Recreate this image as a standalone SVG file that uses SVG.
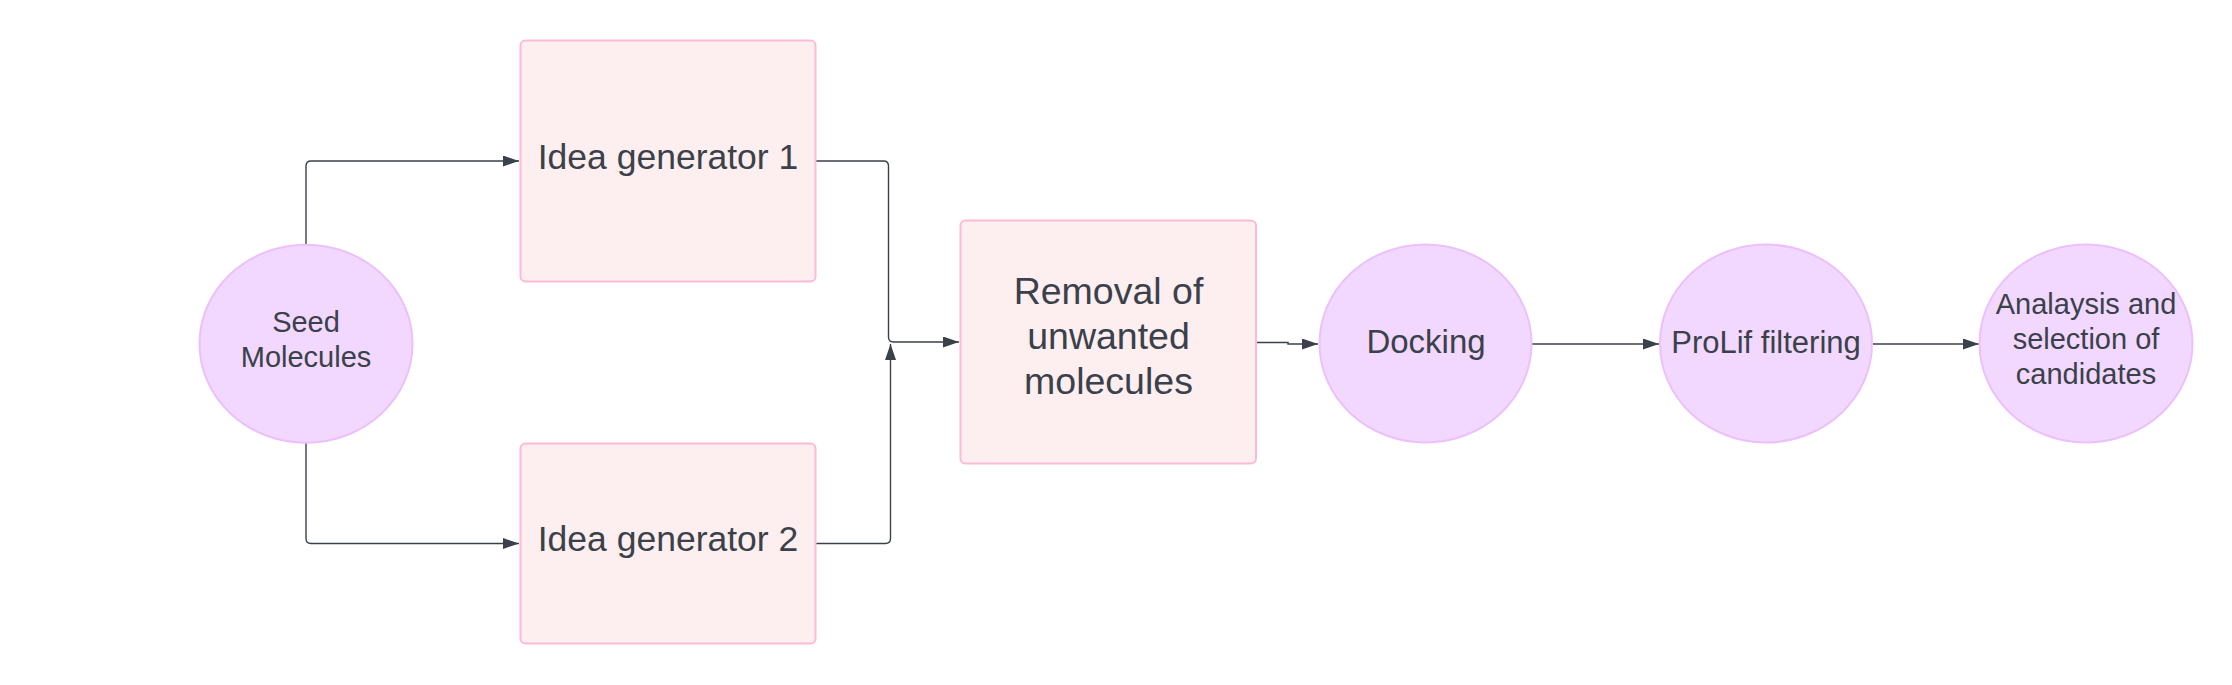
<svg xmlns="http://www.w3.org/2000/svg" width="2232" height="685" viewBox="0 0 2232 685">
<style>
.box{fill:#fdeeef;stroke:#fdbad7;stroke-width:2}
.circ{fill:#f2d8fe;stroke:#ebc0fb;stroke-width:2}
.t{font-family:"Liberation Sans",Arial,sans-serif;fill:#3a414a;text-anchor:middle}
.c{fill:none;stroke:#3a414a;stroke-width:1.4}
</style>
<defs>
<marker id="arr" viewBox="0 0 16 11" refX="16" refY="5.5" markerWidth="16" markerHeight="11" orient="auto" markerUnits="userSpaceOnUse">
<path d="M0,0 L16,5.5 L0,11 z" fill="#3a414a"/>
</marker>
</defs>
<rect width="2232" height="685" fill="#ffffff"/>
<g id="connectors">
<path class="c" d="M306,244 V166 Q306,161 311,161 H519" marker-end="url(#arr)"/>
<path class="c" d="M306,443 V538.5 Q306,543.5 311,543.5 H519" marker-end="url(#arr)"/>
<path class="c" d="M816,161 H883.5 Q888.5,161 888.5,166 V337 Q888.5,342 893.5,342 H959" marker-end="url(#arr)"/>
<path class="c" d="M816,543.5 H885.5 Q890.5,543.5 890.5,538.5 V344" marker-end="url(#arr)"/>
<path class="c" d="M1256,342.5 H1288 V344 H1318" marker-end="url(#arr)"/>
<path class="c" d="M1532,344 H1659" marker-end="url(#arr)"/>
<path class="c" d="M1873,344 H1979" marker-end="url(#arr)"/>
</g>
<g id="seed">
<ellipse class="circ" cx="306" cy="343.7" rx="106.5" ry="99"/>
<text class="t" x="306" y="331.7" font-size="29">Seed</text>
<text class="t" x="306" y="366.7" font-size="29">Molecules</text>
</g>
<g id="idea1">
<rect class="box" x="520.5" y="40.5" width="295" height="241" rx="5"/>
<text class="t" x="668" y="169.3" font-size="35.5">Idea generator 1</text>
</g>
<g id="idea2">
<rect class="box" x="520.5" y="443.5" width="295" height="200" rx="5"/>
<text class="t" x="668" y="550.7" font-size="35.5">Idea generator 2</text>
</g>
<g id="removal">
<rect class="box" x="960.5" y="220.5" width="295.5" height="243" rx="5"/>
<text class="t" x="1108.5" y="304" font-size="37.5">Removal of</text>
<text class="t" x="1108.5" y="349" font-size="37.5">unwanted</text>
<text class="t" x="1108.5" y="394" font-size="37.5">molecules</text>
</g>
<g id="docking">
<ellipse class="circ" cx="1425.5" cy="343.5" rx="106" ry="99"/>
<text class="t" x="1426" y="353.3" font-size="33">Docking</text>
</g>
<g id="prolif">
<ellipse class="circ" cx="1766" cy="343.5" rx="106" ry="99"/>
<text class="t" x="1766" y="352.7" font-size="31">ProLif filtering</text>
</g>
<g id="analysis">
<ellipse class="circ" cx="2086" cy="343.5" rx="106.5" ry="99"/>
<text class="t" x="2086" y="314" font-size="29">Analaysis and</text>
<text class="t" x="2086" y="349" font-size="29">selection of</text>
<text class="t" x="2086" y="384" font-size="29">candidates</text>
</g>
</svg>
